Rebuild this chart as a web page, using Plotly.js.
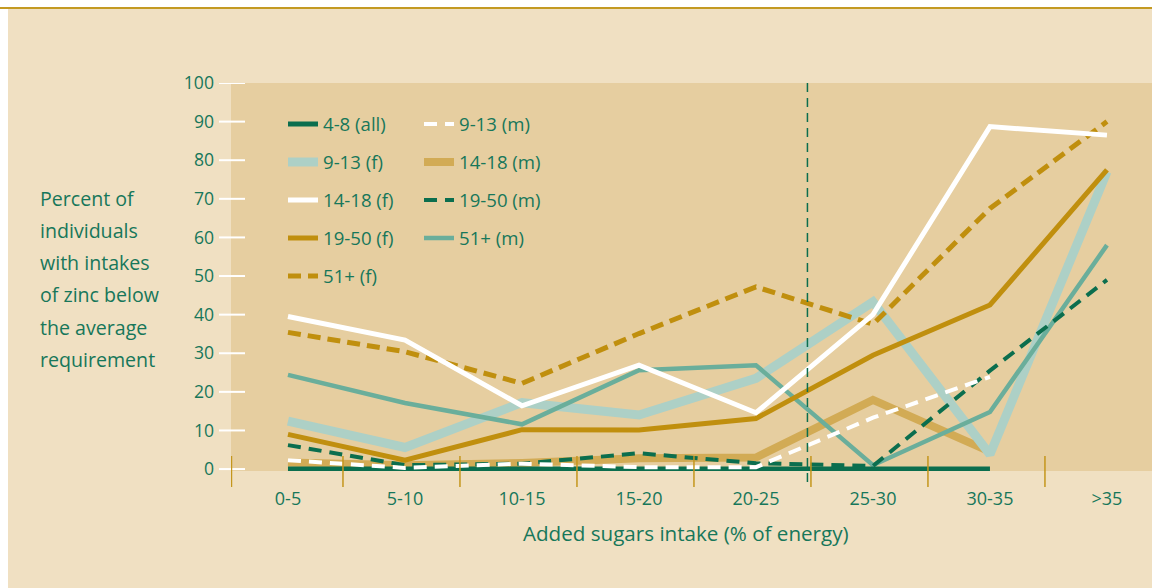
<!DOCTYPE html>
<html><head><meta charset="utf-8">
<script src="https://cdn.plot.ly/plotly-3.0.1.min.js"></script>
<style>
html,body{margin:0;padding:0;background:#ffffff;width:1152px;height:588px;overflow:hidden}
#topline{position:absolute;left:0;top:7px;width:1152px;height:2px;background:#C49A22}
#chart{position:absolute;left:8px;top:9px;width:1144px;height:579px}
</style></head><body>
<div id="topline"></div>
<div id="chart"></div>
<script>
// ---- data ----
const categories = ['0-5', '5-10', '10-15', '15-20', '20-25', '25-30', '30-35', '>35'];
const yTickValues = [0, 10, 20, 30, 40, 50, 60, 70, 80, 90, 100];
const yTitleLines = ['Percent of', 'individuals', 'with intakes', 'of zinc below', 'the average', 'requirement'];
const xTitle = 'Added sugars intake (% of energy)';

const all_4_8   = [0, 0, 0, 0, 0, 0, 0, null];
const m_9_13    = [2.3, 0.3, 1.4, 0.5, 0.5, 13.3, 23.9, null];
const f_9_13    = [12.4, 5.6, 17.2, 14, 23.5, 43.3, 3.8, 77];
const m_14_18   = [1.7, 1, 1.6, 2.8, 3, 17.9, 4.5, null];
const f_14_18   = [39.5, 33.4, 16.4, 26.9, 14.6, 40, 88.7, 86.5];
const m_19_50   = [6.2, 1, 1.4, 4.1, 1.5, 0.8, 25.5, 49];
const f_19_50   = [9, 2.3, 10.2, 10.1, 13.1, 29.5, 42.5, 77.5];
const m_51plus  = [24.4, 17.1, 11.6, 25.6, 26.9, 1, 14.8, 58];
const f_51plus  = [35.4, 30.4, 22.2, 35.1, 47.2, 37.5, 67.5, 90];

// ---- styles ----
const TXT = '#17775A';
const DKGREEN = '#0B6E4E';
const GOLD = '#C08F0E';
const GOLD_LT = '#D2AB55';
const BLUE_LT = '#ADD0C6';
const TEAL = '#6AAE9B';
const FONT = 'Open Sans, DejaVu Sans, sans-serif';

// layout geometry helpers (page px -> paper fraction of the plot area)
const CH_L = 8, CH_T = 9, ML = 223, MT = 74, PW = 921, PH = 388;
const px = x => (x - CH_L - ML) / PW;
const py = y => 1 - (y - CH_T - MT) / PH;
const xRange = [-0.487, 7.385];
const yRange = [-0.5, 100];

function tr(name, y, color, width, dash, legend, rank) {
  return {
    type: 'scatter', mode: 'lines', x: categories, y: y, name: name,
    line: {color: color, width: width, dash: dash || 'solid'},
    legend: legend, legendrank: rank, legendgroup: name,
    connectgaps: false, cliponaxis: false, hoverinfo: 'skip'
  };
}

// drawn bottom -> top
const traces = [
  tr('14-18 (m)', m_14_18, GOLD_LT, 8, null, 'legend2', 2),
  tr('9-13 (f)', f_9_13, BLUE_LT, 9, null, 'legend', 2),
  tr('51+ (m)', m_51plus, TEAL, 4.5, null, 'legend2', 4),
  tr('19-50 (f)', f_19_50, GOLD, 5, null, 'legend', 4),
  tr('51+ (f)', f_51plus, GOLD, 5, '13px,7px', 'legend', 5),
  tr('19-50 (m)', m_19_50, DKGREEN, 4, '13px,8px', 'legend2', 3),
  tr('4-8 (all)', all_4_8, DKGREEN, 5, null, 'legend', 1),
  tr('9-13 (m)', m_9_13, '#FFFFFF', 4, '13px,8px', 'legend2', 1),
  tr('14-18 (f)', f_14_18, '#FFFFFF', 5, null, 'legend', 3)
];

const shapes = [];
// white y tick marks crossing the left edge
yTickValues.forEach(v => shapes.push({
  type: 'line', xref: 'paper', yref: 'y', x0: px(219), x1: px(245), y0: v, y1: v,
  line: {color: '#FFFFFF', width: 2}, layer: 'above'
}));
// gold category separators
categories.forEach((c, i) => {
  const xs = Math.max(i - 0.53, xRange[0] + 0.004);
  shapes.push({
    type: 'line', xref: 'x', yref: 'paper', x0: xs, x1: xs, y0: py(456), y1: py(487),
    line: {color: '#C4961C', width: 1.5}, layer: 'above'
  });
});
// dashed reference line
shapes.push({
  type: 'line', xref: 'x', yref: 'paper', x0: 4.44, x1: 4.44, y0: 1, y1: py(487),
  line: {color: DKGREEN, width: 1.5, dash: '9px,6px'}, layer: 'above'
});

const annotations = yTitleLines.map((t, i) => ({
  text: t, xref: 'paper', yref: 'paper', x: px(38), y: py(198 + i * 32.3),
  xanchor: 'left', yanchor: 'middle', showarrow: false,
  font: {family: FONT, size: 19.6, color: TXT}
}));
annotations.push({
  text: xTitle, xref: 'paper', yref: 'paper', x: px(686), y: py(533),
  xanchor: 'center', yanchor: 'middle', showarrow: false,
  font: {family: FONT, size: 20.6, color: TXT}
});

const LEG_FS = 18.6;
const itemH = LEG_FS * 1.3 + 3;
const legTop = py(124) + (5 + itemH / 2) / PH;
const legCommon = {
  bgcolor: 'rgba(0,0,0,0)', borderwidth: 0, orientation: 'v',
  xanchor: 'left', yanchor: 'top', y: legTop, tracegroupgap: 38 - itemH,
  font: {family: FONT, size: LEG_FS, color: TXT}, itemclick: false, itemdoubleclick: false
};

const layout = {
  width: 1144, height: 579,
  margin: {l: ML, r: 0, t: MT, b: 579 - MT - PH, pad: 0},
  paper_bgcolor: '#F0E0C2', plot_bgcolor: '#E6CEA0',
  showlegend: true,
  legend: Object.assign({}, legCommon, {x: px(283)}),
  legend2: Object.assign({}, legCommon, {x: px(419)}),
  xaxis: {
    type: 'category', categoryarray: categories, range: xRange,
    showgrid: false, zeroline: false, showline: false, ticks: '',
    ticklabelstandoff: 15,
    tickfont: {family: FONT, size: 18, color: TXT}, fixedrange: true
  },
  yaxis: {
    range: yRange, tickvals: yTickValues, showgrid: false, zeroline: false,
    showline: false, ticks: '', ticklabelstandoff: 16,
    tickfont: {family: FONT, size: 17.6, color: TXT}, fixedrange: true
  },
  shapes: shapes, annotations: annotations, hovermode: false
};

Plotly.newPlot('chart', traces, layout, {displayModeBar: false, staticPlot: true});
</script>
</body></html>
